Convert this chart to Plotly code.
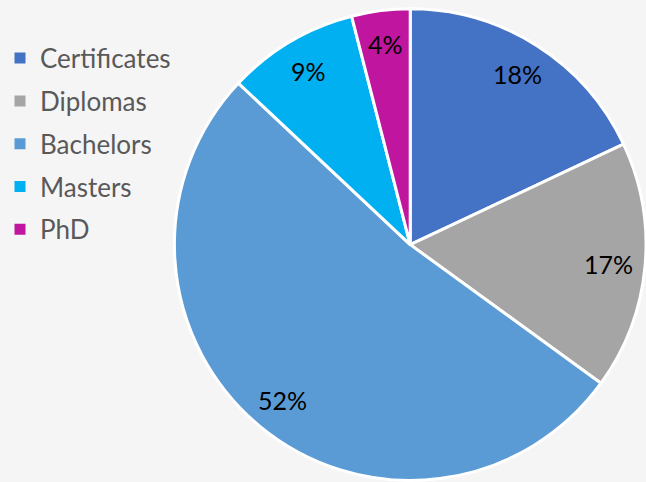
import math
import plotly.graph_objects as go

categories = ["Certificates", "Diplomas", "Bachelors", "Masters", "PhD"]
values = [18, 17, 52, 9, 4]
colors = ["#4472C4", "#A5A5A5", "#5B9BD5", "#00B0F0", "#C0169F"]

W, H = 646, 482
dom_x = [0.262, 1.0]
dom_y = [0.0, 0.985]

fig = go.Figure()
fig.add_trace(go.Pie(
    labels=categories, values=values, sort=False, direction="clockwise",
    rotation=0, marker=dict(colors=colors, line=dict(color="white", width=3)),
    textinfo="none", hoverinfo="label+percent", showlegend=False,
    domain=dict(x=dom_x, y=dom_y),
))

# legend entries via dummy traces (for spacing control)
for c, col in zip(categories, colors):
    fig.add_trace(go.Scatter(x=[None], y=[None], mode="markers", name=c,
                             legendgroup=c,
                             marker=dict(symbol="square", size=11, color=col)))

# percentage labels placed along each slice's mid-angle
wpx = (dom_x[1] - dom_x[0]) * W
hpx = (dom_y[1] - dom_y[0]) * H
r = min(wpx, hpx) / 2
cx = (dom_x[0] + dom_x[1]) / 2 * W
cy = (dom_y[0] + dom_y[1]) / 2 * H
total = sum(values)
cum = 0
for v in values:
    mid = (cum + v / 2) / total * 2 * math.pi
    cum += v
    px = cx + 0.85 * r * math.sin(mid)
    py = cy + 0.85 * r * math.cos(mid)
    fig.add_annotation(x=px / W, y=py / H, xref="paper", yref="paper",
                       xanchor="center", yanchor="middle",
                       text=f"{round(v / total * 100)}%", showarrow=False,
                       font=dict(size=25, color="#000000", family="Lato"))

fig.update_layout(
    width=W, height=H, margin=dict(l=0, r=0, t=0, b=0),
    paper_bgcolor="#f5f5f5", plot_bgcolor="rgba(0,0,0,0)",
    font=dict(family="Lato", size=26, color="#595959"),
    xaxis=dict(visible=False), yaxis=dict(visible=False),
    legend=dict(x=-0.011, y=0.928, xanchor="left", yanchor="top",
                bgcolor="rgba(0,0,0,0)", tracegroupgap=6,
                font=dict(size=26, color="#595959", family="Lato"),
                itemwidth=30),
)
fig.write_html("out.html")
